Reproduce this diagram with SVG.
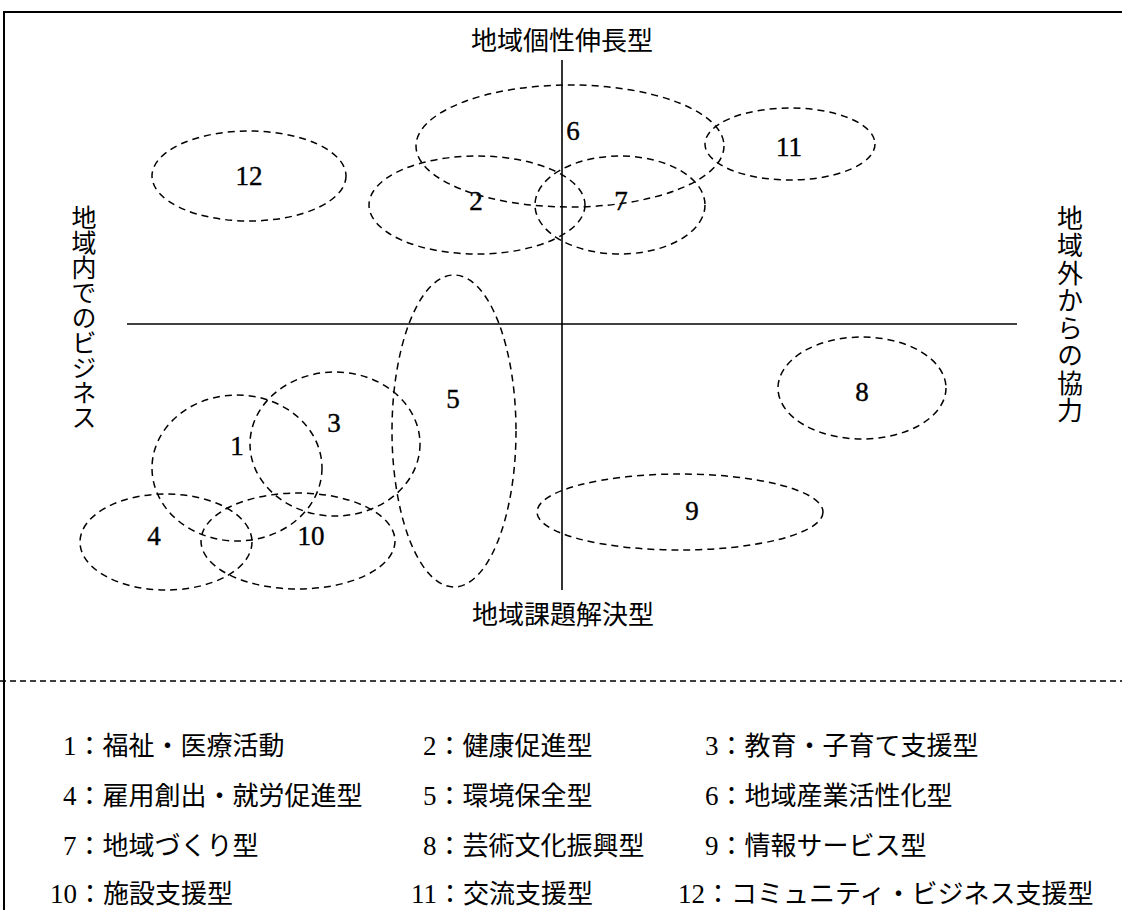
<svg xmlns="http://www.w3.org/2000/svg" width="1122" height="910" viewBox="0 0 1122 910">
<style>
.bg{fill:#fff}
.frame{stroke:#000;stroke-width:2;fill:none}
.axis{stroke:#000;stroke-width:1.6;fill:none}
.sep{stroke:#000;stroke-width:1.5;stroke-dasharray:6 4;fill:none}
.ell{fill:none;stroke:#000;stroke-width:1.5;stroke-dasharray:7 5}
.num{font-family:"Liberation Serif","DejaVu Serif",serif;font-size:27px;fill:#000;stroke:#000;stroke-width:0.4;text-anchor:middle}
.jp{font-family:"Noto Sans CJK JP","Noto Sans CJK SC",sans-serif;font-size:26px;fill:#000}
.d{font-family:"Liberation Serif","DejaVu Serif",serif;font-size:27px}
.title{text-anchor:middle}
.vert{writing-mode:vertical-rl;text-orientation:upright}
</style>
<rect class="bg" x="0" y="0" width="1122" height="910"/>
<g id="frame">
<path class="frame" d="M4 910 V12 H1122"/>
<path class="sep" d="M0 681 H1122"/>
</g>
<g id="axes">
<line class="axis" x1="562" y1="60" x2="562" y2="590"/>
<line class="axis" x1="127" y1="324" x2="1017" y2="324"/>
<text class="jp title" x="562" y="50">地域個性伸長型</text>
<text class="jp title" x="563" y="624">地域課題解決型</text>
<text class="jp vert" x="84" y="205" style="font-size:25px">地域内でのビジネス</text>
<text class="jp vert" x="1070" y="205" style="letter-spacing:1.5px">地域外からの協力</text>
</g>
<g id="n12"><ellipse class="ell" cx="249" cy="176" rx="97" ry="45"/><text class="num" x="249" y="185">12</text></g>
<g id="n6"><ellipse class="ell" cx="570" cy="146" rx="154" ry="61"/><text class="num" x="573" y="140">6</text></g>
<g id="n11"><ellipse class="ell" cx="790" cy="144" rx="85" ry="36"/><text class="num" x="789" y="156">11</text></g>
<g id="n2"><ellipse class="ell" cx="477" cy="205" rx="108" ry="49"/><text class="num" x="476" y="210">2</text></g>
<g id="n7"><ellipse class="ell" cx="620" cy="205" rx="85" ry="49"/><text class="num" x="621" y="210">7</text></g>
<g id="n5"><ellipse class="ell" cx="454" cy="431" rx="62" ry="156"/><text class="num" x="453" y="408">5</text></g>
<g id="n3"><ellipse class="ell" cx="335" cy="444" rx="85" ry="72"/><text class="num" x="334" y="432">3</text></g>
<g id="n1"><ellipse class="ell" cx="237" cy="468" rx="85" ry="73"/><text class="num" x="237" y="455">1</text></g>
<g id="n4"><ellipse class="ell" cx="166" cy="542" rx="86" ry="48"/><text class="num" x="154" y="545">4</text></g>
<g id="n10"><ellipse class="ell" cx="298" cy="541" rx="97" ry="48"/><text class="num" x="311" y="545">10</text></g>
<g id="n8"><ellipse class="ell" cx="862" cy="388" rx="84" ry="51"/><text class="num" x="862" y="401">8</text></g>
<g id="n9"><ellipse class="ell" cx="680" cy="512" rx="143" ry="38"/><text class="num" x="692" y="520">9</text></g>
<g id="legend">
<text class="jp" x="63" y="755"><tspan class="d">1</tspan>：福祉・医療活動</text>
<text class="jp" x="423" y="755"><tspan class="d">2</tspan>：健康促進型</text>
<text class="jp" x="705" y="755"><tspan class="d">3</tspan>：教育・子育て支援型</text>
<text class="jp" x="63" y="805"><tspan class="d">4</tspan>：雇用創出・就労促進型</text>
<text class="jp" x="423" y="805"><tspan class="d">5</tspan>：環境保全型</text>
<text class="jp" x="705" y="805"><tspan class="d">6</tspan>：地域産業活性化型</text>
<text class="jp" x="63" y="855"><tspan class="d">7</tspan>：地域づくり型</text>
<text class="jp" x="423" y="855"><tspan class="d">8</tspan>：芸術文化振興型</text>
<text class="jp" x="705" y="855"><tspan class="d">9</tspan>：情報サービス型</text>
<text class="jp" x="50" y="903"><tspan class="d">10</tspan>：施設支援型</text>
<text class="jp" x="411" y="903"><tspan class="d">11</tspan>：交流支援型</text>
<text class="jp" x="678" y="903"><tspan class="d">12</tspan>：コミュニティ・ビジネス支援型</text>
</g>
</svg>
